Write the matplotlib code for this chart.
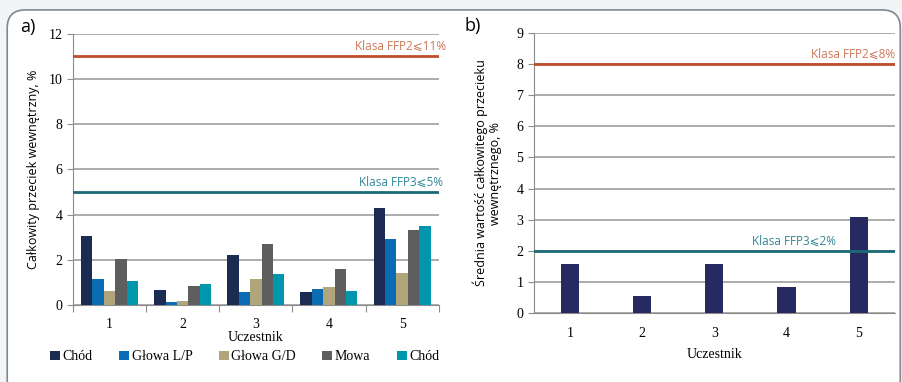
import matplotlib.pyplot as plt
from matplotlib.patches import FancyBboxPatch
import numpy as np

uczestnicy = ["1", "2", "3", "4", "5"]
serie = ["Chód", "Głowa L/P", "Głowa G/D", "Mowa", "Chód"]
przeciek = [
    [3.07, 0.68, 2.22, 0.59, 4.30],   # Chód
    [1.16, 0.15, 0.59, 0.72, 2.93],   # Głowa L/P
    [0.63, 0.19, 1.16, 0.81, 1.43],   # Głowa G/D
    [2.05, 0.86, 2.71, 1.61, 3.33],   # Mowa
    [1.08, 0.94, 1.38, 0.63, 3.51],   # Chód
]
srednia = [1.58, 0.56, 1.59, 0.85, 3.08]
ffp2_a, ffp3_a = 11, 5
ffp2_b, ffp3_b = 8, 2

kolory = ["#1b2b52", "#0a6cb3", "#b1a57c", "#5e5e5e", "#0096ae"]
czerw = "#bf4f2c"
morski = "#1c6a77"
serif = ["Liberation Serif", "DejaVu Serif"]
sans = ["Open Sans", "DejaVu Sans"]

# domyslnie szeryfowa (liczby, legenda), bezszeryfowa podana recznie
plt.rcParams["font.family"] = serif

fig = plt.figure(figsize=(9.03, 3.82), dpi=100)
fig.patch.set_facecolor("#f3f4f5")

# jeden zaokraglony panel w tle
fig.patches.append(FancyBboxPatch((0.008, -0.04), 0.989, 1.014,
                   boxstyle="round,pad=0,rounding_size=0.02",
                   transform=fig.transFigure, facecolor="white",
                   edgecolor="#7d8894", linewidth=1.2, mutation_aspect=2.36,
                   zorder=-5))

# ---- a) ----
ax = fig.add_axes([0.0808, 0.2008, 0.405, 0.711])
ax.set_facecolor("none")
x = np.arange(len(uczestnicy))
w = 0.156
for i, vals in enumerate(przeciek):
    ax.bar(x + (i - 2) * w, vals, w, color=kolory[i], label=serie[i], zorder=3)
ax.axhline(ffp2_a, color=czerw, lw=2, zorder=4)
ax.axhline(ffp3_a, color=morski, lw=2, zorder=4)
ax.text(1.02, ffp2_a + 0.15, "Klasa FFP2⩽11%", color="#cd7656", fontsize=8.5,
        family=sans, ha="right", va="bottom", transform=ax.get_yaxis_transform())
ax.text(1.013, ffp3_a + 0.15, "Klasa FFP3⩽5%", color="#2f8795", fontsize=8.5,
        family=sans, ha="right", va="bottom", transform=ax.get_yaxis_transform())
ax.set_ylim(0, 12)
ax.set_xlim(-0.5, 4.5)
ax.set_yticks(range(0, 13, 2))
ax.set_xticks(np.arange(-0.5, 5, 1))
ax.set_xticklabels([])
ax.set_xticks(x, minor=True)
ax.set_xticklabels(uczestnicy, minor=True, fontsize=10)
ax.tick_params(axis="x", which="minor", length=0, pad=9)
ax.tick_params(axis="x", which="major", length=5, color="#8c8c8c")
ax.tick_params(axis="y", length=4, color="#8c8c8c", labelsize=10)
ax.grid(axis="y", color="#a6a6a6", lw=1.3, zorder=0)
for s in ["top", "right"]:
    ax.spines[s].set_visible(False)
for s in ["left", "bottom"]:
    ax.spines[s].set_color("#8c8c8c")
ax.set_xlabel("Uczestnik", fontsize=10, labelpad=0)
ax.set_ylabel("Całkowity przeciek wewnętrzny, %", family=sans, fontsize=9, labelpad=6)
ax.legend(loc="upper center", bbox_to_anchor=(0.47, -0.12), ncol=5, frameon=False,
          prop={"size": 10}, handlelength=0.7, handleheight=0.7,
          handletextpad=0.2, columnspacing=1.9)
fig.text(0.022, 0.915, "a)", fontsize=13, family=sans)

# ---- b) ----
bx = fig.add_axes([0.591, 0.180, 0.400, 0.734])
bx.set_facecolor("none")
bx.bar(x, srednia, 0.25, color="#272a5e", zorder=3)
bx.axhline(ffp2_b, color=czerw, lw=2, zorder=4)
bx.axhline(ffp3_b, color=morski, lw=2, zorder=4)
bx.text(1.0, ffp2_b + 0.12, "Klasa FFP2⩽8%", color="#cd7656", fontsize=8.5,
        family=sans, ha="right", va="bottom", transform=bx.get_yaxis_transform())
bx.text(0.838, ffp3_b + 0.12, "Klasa FFP3⩽2%", color="#2f8795", fontsize=8.5,
        family=sans, ha="right", va="bottom", transform=bx.get_yaxis_transform())
bx.set_ylim(0, 9)
bx.set_xlim(-0.5, 4.5)
bx.set_yticks(range(0, 10))
bx.set_xticks(x)
bx.set_xticklabels(uczestnicy, fontsize=10)
bx.tick_params(axis="x", length=0, pad=10)
bx.tick_params(axis="y", length=4, color="#8c8c8c", labelsize=10)
bx.grid(axis="y", color="#a6a6a6", lw=1.3, zorder=0)
for s in ["top", "right"]:
    bx.spines[s].set_visible(False)
for s in ["left", "bottom"]:
    bx.spines[s].set_color("#8c8c8c")
bx.set_xlabel("Uczestnik", fontsize=10, labelpad=6)
bx.set_ylabel("Średnia wartość całkowitego przecieku\nwewnętrznego, %", family=sans,
              fontsize=9, labelpad=10, linespacing=1.1)
fig.text(0.514, 0.92, "b)", fontsize=13, family=sans)

fig.savefig("out.png", dpi=100, facecolor=fig.get_facecolor())
